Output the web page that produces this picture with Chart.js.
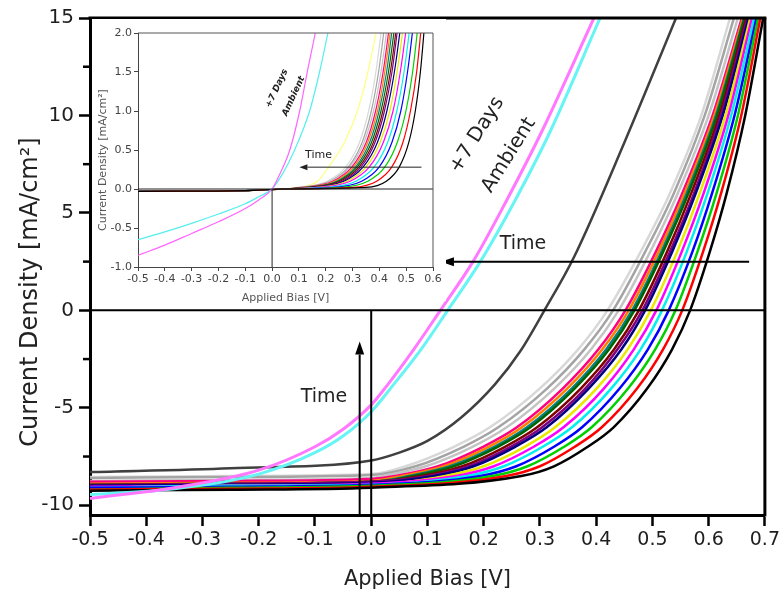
<!DOCTYPE html>
<html>
<head>
<meta charset="utf-8">
<script src="https://cdn.jsdelivr.net/npm/chart.js@4.4.0/dist/chart.umd.min.js"></script>
<style>
    html, body { margin: 0; padding: 0; background: #fff; }
    #wrap { position: relative; width: 783px; height: 601px; }
    #main { position: absolute; left: 0; top: 0; }
    #inset { position: absolute; left: 92px; top: 19px; }
</style>
</head>
<body>
<div id="wrap">
    <canvas id="main" width="783" height="601"></canvas>
    <canvas id="inset" width="354" height="290"></canvas>
</div>
<script>
// ---- Main panel: J-V sweeps, freshest (black) first, oldest (light grey) last ----
const SWEEP_COLORS = ['#000000', '#ff0000', '#00d000', '#0000ff', '#00f0f0', '#ff00ff', '#e8e800', '#000080',
    '#800080', '#800000', '#006400', '#008080', '#ff8000', '#ff0080', '#c4c4c4', '#a4a4a4', '#d8d8d8'];

// plateau current [mA/cm2] at these biases
const MAIN_FLAT_V = [-0.5, -0.25, 0];
const MAIN_FLAT_J = [
    [-9.25, -9.2, -9.1],
    [-9.2, -9.15, -9.05],
    [-9.2, -9.1, -9.0],
    [-9.1, -9.05, -8.95],
    [-9.1, -9.0, -8.95],
    [-9.05, -9.0, -8.9],
    [-9.1, -9.0, -8.95],
    [-9.0, -8.95, -8.85],
    [-9.0, -8.9, -8.8],
    [-8.95, -8.9, -8.8],
    [-9.05, -8.95, -8.85],
    [-8.95, -8.9, -8.8],
    [-8.9, -8.85, -8.75],
    [-8.8, -8.75, -8.65],
    [-8.75, -8.7, -8.6],
    [-8.6, -8.55, -8.45],
    [-8.55, -8.5, -8.4]
];

// bias [V] at which each sweep reaches these currents
const MAIN_RISE_J = [-8.5, -8, -7, -6, -4, -2, 0, 3, 6, 10, 15];
const MAIN_RISE_V = [
    [0.267, 0.325, 0.385, 0.431, 0.491, 0.535, 0.567, 0.602, 0.632, 0.665, 0.697],
    [0.240, 0.300, 0.362, 0.410, 0.473, 0.519, 0.553, 0.590, 0.622, 0.658, 0.692],
    [0.216, 0.278, 0.343, 0.392, 0.457, 0.505, 0.541, 0.580, 0.614, 0.652, 0.688],
    [0.194, 0.258, 0.325, 0.375, 0.442, 0.492, 0.529, 0.571, 0.606, 0.646, 0.685],
    [0.171, 0.236, 0.305, 0.357, 0.427, 0.479, 0.517, 0.561, 0.598, 0.640, 0.681],
    [0.151, 0.218, 0.289, 0.342, 0.414, 0.467, 0.507, 0.552, 0.591, 0.635, 0.677],
    [0.132, 0.200, 0.273, 0.327, 0.401, 0.456, 0.497, 0.544, 0.584, 0.630, 0.674],
    [0.112, 0.182, 0.256, 0.312, 0.387, 0.445, 0.487, 0.535, 0.577, 0.625, 0.671],
    [0.102, 0.173, 0.248, 0.304, 0.381, 0.438, 0.482, 0.531, 0.574, 0.622, 0.669],
    [0.090, 0.162, 0.238, 0.295, 0.373, 0.432, 0.476, 0.526, 0.569, 0.619, 0.667],
    [0.075, 0.147, 0.225, 0.283, 0.362, 0.423, 0.468, 0.519, 0.564, 0.615, 0.664],
    [0.067, 0.140, 0.219, 0.277, 0.357, 0.418, 0.464, 0.516, 0.561, 0.613, 0.663],
    [0.055, 0.129, 0.209, 0.268, 0.349, 0.411, 0.458, 0.511, 0.557, 0.610, 0.661],
    [0.043, 0.119, 0.199, 0.259, 0.341, 0.404, 0.452, 0.506, 0.553, 0.607, 0.659],
    [0.020, 0.097, 0.180, 0.241, 0.326, 0.391, 0.440, 0.496, 0.545, 0.600, 0.652],
    [null, 0.079, 0.164, 0.226, 0.313, 0.379, 0.430, 0.487, 0.538, 0.593, 0.645],
    [null, 0.061, 0.147, 0.211, 0.300, 0.368, 0.420, 0.479, 0.531, 0.587, 0.638]
];

// last dark grey sweep before the ambient exposure
const DARK_GREY_V = [-0.5, -0.25, 0, 0.05, 0.1, 0.16, 0.22, 0.265, 0.308, 0.36, 0.45, 0.542];
const DARK_GREY_J = [-8.3, -8.1, -7.7, -7.3, -6.7, -5.5, -3.8, -2.1, 0, 2.7, 8.6, 15];

// +7 days ambient
const AGED_PINK_V = [-0.5, -0.35, -0.2, -0.1, -0.05, 0, 0.027, 0.077, 0.123, 0.181, 0.24, 0.302, 0.396];
const AGED_PINK_J = [-9.65, -9.1, -8.2, -7.0, -6.1, -4.85, -3.9, -1.95, 0, 2.5, 5.6, 9.1, 15];
const AGED_CYAN_V = [-0.5, -0.35, -0.2, -0.1, -0.05, 0, 0.04, 0.09, 0.136, 0.194, 0.255, 0.317, 0.407];
const AGED_CYAN_J = [-9.45, -9.15, -8.4, -7.3, -6.45, -5.2, -3.8, -1.95, 0, 2.5, 5.6, 9.1, 15];

const MAIN_X_TICKS = [-0.5, -0.4, -0.3, -0.2, -0.1, 0, 0.1, 0.2, 0.3, 0.4, 0.5, 0.6, 0.7];
const MAIN_Y_TICKS = [-10, -5, 0, 5, 10, 15];
const MAIN_Y_MINOR = [-7.5, -2.5, 2.5, 7.5, 12.5];

// ---- Inset: dark sweeps, same colour order plus a pale yellow one ----
const INSET_COLORS = SWEEP_COLORS.concat(['#ffff80']);
const INSET_FLAT_V = [-0.5, -0.1, 0.05];
const INSET_FLAT_J = [-0.03, -0.02, 0];
const INSET_RISE_J = [0.02, 0.1, 0.28, 0.6, 1.0, 1.5, 2.0, 2.6];
const INSET_RISE_V = [
    [0.350, 0.426, 0.474, 0.510, 0.534, 0.553, 0.566, 0.580],
    [0.301, 0.390, 0.446, 0.488, 0.516, 0.539, 0.554, 0.570],
    [0.257, 0.357, 0.420, 0.467, 0.499, 0.524, 0.541, 0.559],
    [0.232, 0.334, 0.399, 0.447, 0.480, 0.505, 0.523, 0.541],
    [0.204, 0.312, 0.380, 0.431, 0.465, 0.492, 0.511, 0.530],
    [0.179, 0.291, 0.362, 0.415, 0.451, 0.478, 0.498, 0.518],
    [0.167, 0.279, 0.350, 0.403, 0.439, 0.466, 0.486, 0.506],
    [0.155, 0.268, 0.339, 0.393, 0.428, 0.456, 0.476, 0.496],
    [0.149, 0.261, 0.331, 0.384, 0.419, 0.447, 0.466, 0.486],
    [0.140, 0.253, 0.324, 0.378, 0.413, 0.441, 0.461, 0.481],
    [0.133, 0.246, 0.317, 0.371, 0.406, 0.434, 0.454, 0.474],
    [0.129, 0.241, 0.311, 0.364, 0.399, 0.427, 0.446, 0.466],
    [0.121, 0.233, 0.304, 0.357, 0.393, 0.420, 0.440, 0.460],
    [0.113, 0.226, 0.297, 0.351, 0.386, 0.414, 0.434, 0.454],
    [0.105, 0.218, 0.289, 0.343, 0.378, 0.406, 0.426, 0.446],
    [0.106, 0.215, 0.284, 0.336, 0.370, 0.397, 0.416, 0.436],
    [0.096, 0.205, 0.274, 0.326, 0.360, 0.387, 0.406, 0.426],
    [0.090, 0.170, 0.210, 0.270, 0.318, 0.357, 0.387, 0.415]
];
const INSET_PINK_V = [-0.5, -0.4, -0.3, -0.2, -0.1, -0.05, 0, 0.03, 0.066, 0.103, 0.13, 0.161, 0.18];
const INSET_PINK_J = [-0.85, -0.72, -0.57, -0.42, -0.25, -0.14, 0, 0.2, 0.5, 1.0, 1.48, 2.0, 2.35];
const INSET_CYAN_V = [-0.5, -0.4, -0.3, -0.2, -0.1, -0.05, 0, 0.04, 0.084, 0.14, 0.177, 0.208, 0.225];
const INSET_CYAN_J = [-0.65, -0.55, -0.44, -0.32, -0.19, -0.1, 0, 0.2, 0.5, 1.0, 1.5, 2.0, 2.3];

const INSET_X_TICKS = [-0.5, -0.4, -0.3, -0.2, -0.1, 0, 0.1, 0.2, 0.3, 0.4, 0.5, 0.6];
const INSET_Y_TICKS = [-1, -0.5, 0, 0.5, 1, 1.5, 2];

const FONT = 'DejaVu Sans';

// helpers
function pairs(vs, js) {
    return vs.map((v, k) => ({ x: v, y: js[k] }));
}

function sweep(flatV, flatJ, riseV, riseJ) {
    const pts = pairs(flatV, flatJ);
    riseV.forEach((v, k) => { if (v !== null) pts.push({ x: v, y: riseJ[k] }); });
    return pts;
}

function lineSet(data, color, width) {
    return { data: data, borderColor: color, borderWidth: width, pointRadius: 0, fill: false, clip: 0 };
}

function line(ctx, x1, y1, x2, y2) {
    ctx.beginPath();
    ctx.moveTo(x1, y1);
    ctx.lineTo(x2, y2);
    ctx.stroke();
}

function arrow(ctx, x1, y1, x2, y2, len, half) {
    const ang = Math.atan2(y2 - y1, x2 - x1);
    const bx = x2 - len * Math.cos(ang), by = y2 - len * Math.sin(ang);
    line(ctx, x1, y1, bx, by);
    ctx.beginPath();
    ctx.moveTo(x2, y2);
    ctx.lineTo(bx + half * Math.sin(ang), by - half * Math.cos(ang));
    ctx.lineTo(bx - half * Math.sin(ang), by + half * Math.cos(ang));
    ctx.closePath();
    ctx.fill();
}

function text(ctx, s, px, py, deg) {
    ctx.save();
    ctx.translate(px, py);
    ctx.rotate(deg * Math.PI / 180);
    ctx.fillText(s, 0, 0);
    ctx.restore();
}

function fixedTicks(list) {
    return scale => { scale.ticks = list.map(v => ({ value: v })); };
}

// ---- main chart ----
const mainSets = [
    lineSet(pairs(AGED_PINK_V, AGED_PINK_J), '#ff78ff', 3),
    lineSet(pairs(AGED_CYAN_V, AGED_CYAN_J), '#66f4f4', 3)
];
SWEEP_COLORS.forEach((c, i) => {
    mainSets.push(lineSet(sweep(MAIN_FLAT_V, MAIN_FLAT_J[i], MAIN_RISE_V[i], MAIN_RISE_J), c, 2.5));
});
mainSets.push(lineSet(pairs(DARK_GREY_V, DARK_GREY_J), '#404040', 2.5));

const mainDecor = {
    id: 'mainDecor',
    afterDatasetsDraw(chart) {
        const { ctx, chartArea: a, scales: { x, y } } = chart;
        const px = v => x.getPixelForValue(v), py = v => y.getPixelForValue(v);
        ctx.save();
        ctx.strokeStyle = '#000';
        ctx.fillStyle = '#000';
        ctx.lineWidth = 2;
        line(ctx, a.left, py(0), a.right, py(0));
        line(ctx, px(0), py(0), px(0), a.bottom);
        arrow(ctx, px(-0.0205), a.bottom, px(-0.0205), py(-1.6), 13, 4.5);
        arrow(ctx, px(0.672), py(2.49), px(0.124), py(2.49), 13, 4.5);

        // frame top and right
        ctx.lineWidth = 3;
        line(ctx, a.left - 1.5, a.top, a.right + 1.5, a.top);
        line(ctx, a.right, a.top, a.right, a.bottom + 1.5);

        // minor y ticks
        ctx.lineWidth = 2.5;
        MAIN_Y_MINOR.forEach(v => line(ctx, a.left - 7, py(v), a.left, py(v)));

        ctx.fillStyle = '#222';
        ctx.textAlign = 'center';
        ctx.textBaseline = 'middle';
        ctx.font = '19px ' + FONT;
        text(ctx, 'Time', px(0.27), py(3.4), 0);
        text(ctx, 'Time', px(-0.084), py(-4.45), 0);
        ctx.font = '20px ' + FONT;
        text(ctx, '+7 Days', px(0.188), py(8.99), -58);
        text(ctx, 'Ambient', px(0.245), py(7.96), -58);

        ctx.font = '21px ' + FONT;
        text(ctx, 'Applied Bias [V]', (a.left + a.right) / 2, 580, 0);
        ctx.font = '24px ' + FONT;
        text(ctx, 'Current Density [mA/cm²]', 31, 292, -90);
        ctx.restore();
    }
};

new Chart(document.getElementById('main'), {
    type: 'line',
    data: { datasets: mainSets },
    options: {
        responsive: false,
        animation: false,
        events: [],
        layout: { padding: { top: 18, right: 18, left: 0, bottom: 0 } },
        plugins: { legend: { display: false }, tooltip: { enabled: false } },
        elements: { line: { cubicInterpolationMode: 'monotone' } },
        scales: {
            x: {
                type: 'linear', min: -0.5, max: 0.7,
                afterFit: s => { s.height = 86; },
                afterBuildTicks: fixedTicks(MAIN_X_TICKS),
                ticks: { callback: v => v.toFixed(1), font: { family: FONT, size: 19 }, color: '#1e1e1e',
                    padding: 3, maxRotation: 0, autoSkip: false },
                grid: { drawOnChartArea: false, tickLength: 11, tickWidth: 2.5, tickColor: '#000' },
                border: { display: true, color: '#000', width: 3 }
            },
            y: {
                type: 'linear', min: -10.5, max: 15,
                afterFit: s => { s.width = 90; },
                afterBuildTicks: fixedTicks(MAIN_Y_TICKS),
                ticks: { callback: v => String(v), font: { family: FONT, size: 20 }, color: '#1e1e1e',
                    padding: 5, autoSkip: false },
                grid: { drawOnChartArea: false, tickLength: 11, tickWidth: 2.5, tickColor: '#000' },
                border: { display: true, color: '#000', width: 3 }
            }
        }
    },
    plugins: [mainDecor]
});

// ---- inset chart ----
const insetSets = [
    lineSet(pairs(INSET_PINK_V, INSET_PINK_J), '#ff66ff', 1.2),
    lineSet(pairs(INSET_CYAN_V, INSET_CYAN_J), '#55eeee', 1.2)
];
INSET_COLORS.forEach((c, i) => {
    insetSets.push(lineSet(sweep(INSET_FLAT_V, INSET_FLAT_J, INSET_RISE_V[i], INSET_RISE_J), c, 1.2));
});

const insetDecor = {
    id: 'insetDecor',
    beforeDraw(chart) {
        // white panel behind the inset, stopping short of the main zero line
        const ctx = chart.ctx;
        ctx.save();
        ctx.fillStyle = '#fff';
        ctx.fillRect(0, 0, chart.width, 282);
        ctx.restore();
    },
    afterDatasetsDraw(chart) {
        const { ctx, chartArea: a, scales: { x, y } } = chart;
        const px = v => x.getPixelForValue(v), py = v => y.getPixelForValue(v);
        ctx.save();
        ctx.strokeStyle = '#222';
        ctx.fillStyle = '#222';
        ctx.lineWidth = 1;
        line(ctx, a.left, py(0), a.right, py(0));
        line(ctx, px(0), py(0), px(0), a.bottom);
        arrow(ctx, px(0.557), py(0.28), px(0.102), py(0.28), 8, 3);

        ctx.strokeStyle = '#555';
        line(ctx, a.left, a.top, a.right, a.top);
        line(ctx, a.right, a.top, a.right, a.bottom);

        ctx.textAlign = 'center';
        ctx.textBaseline = 'middle';
        ctx.font = '11px ' + FONT;
        text(ctx, 'Time', px(0.173), py(0.43), 0);
        ctx.font = 'italic bold 9px ' + FONT;
        text(ctx, '+7 Days', px(0.018), py(1.29), -65);
        text(ctx, 'Ambient', px(0.08), py(1.19), -65);

        ctx.fillStyle = '#555';
        ctx.font = '11px ' + FONT;
        text(ctx, 'Applied Bias [V]', (a.left + a.right) / 2, 279, 0);
        text(ctx, 'Current Density [mA/cm²]', 11, 141, -90);
        ctx.restore();
    }
};

new Chart(document.getElementById('inset'), {
    type: 'line',
    data: { datasets: insetSets },
    options: {
        responsive: false,
        animation: false,
        events: [],
        layout: { padding: { top: 14, right: 13, left: 0, bottom: 0 } },
        plugins: { legend: { display: false }, tooltip: { enabled: false } },
        elements: { line: { cubicInterpolationMode: 'monotone' } },
        scales: {
            x: {
                type: 'linear', min: -0.5, max: 0.6,
                afterFit: s => { s.height = 42; },
                afterBuildTicks: fixedTicks(INSET_X_TICKS),
                ticks: { callback: v => v.toFixed(1), font: { family: FONT, size: 11 }, color: '#444',
                    padding: 2, maxRotation: 0, autoSkip: false },
                grid: { drawOnChartArea: false, tickLength: 4, tickWidth: 1, tickColor: '#444' },
                border: { display: true, color: '#444', width: 1 }
            },
            y: {
                type: 'linear', min: -1, max: 2,
                afterFit: s => { s.width = 46; },
                afterBuildTicks: fixedTicks(INSET_Y_TICKS),
                ticks: { callback: v => v.toFixed(1), font: { family: FONT, size: 11 }, color: '#444',
                    padding: 2, autoSkip: false },
                grid: { drawOnChartArea: false, tickLength: 4, tickWidth: 1, tickColor: '#444' },
                border: { display: true, color: '#444', width: 1 }
            }
        }
    },
    plugins: [insetDecor]
});
</script>
</body>
</html>
